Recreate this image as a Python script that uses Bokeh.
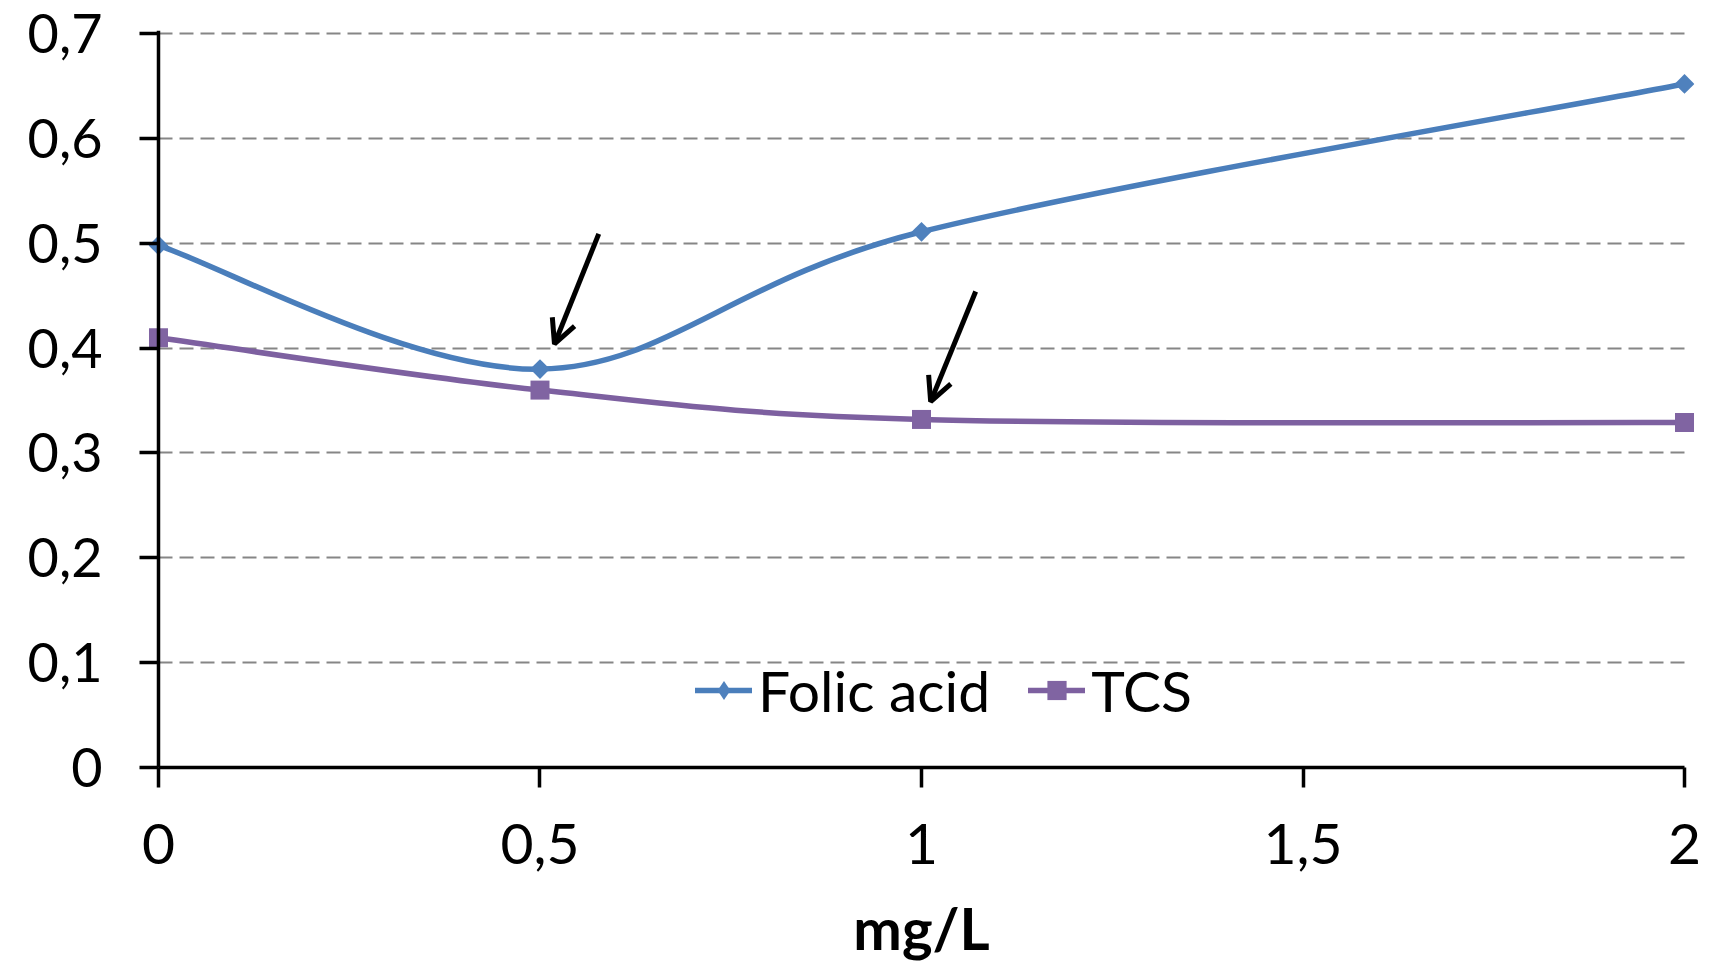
import numpy as np
from bokeh.plotting import figure
from bokeh.models import (Range1d, FixedTicker, Legend, LegendItem, ColumnDataSource,
                          Arrow, OpenHead, Span)
from bokeh.embed import file_html
from bokeh.resources import INLINE

# ---------------- data ----------------
conc = [0, 0.5, 1, 2]
folic_acid = [0.498, 0.380, 0.511, 0.652]
tcs = [0.410, 0.360, 0.332, 0.329]
series_names = ["Folic acid", "TCS"]
x_ticks = [0, 0.5, 1, 1.5, 2]
x_tick_labels = ["0", "0,5", "1", "1,5", "2"]
y_ticks = [0, 0.1, 0.2, 0.3, 0.4, 0.5, 0.6, 0.7]
y_tick_labels = ["0", "0,1", "0,2", "0,3", "0,4", "0,5", "0,6", "0,7"]
x_label = "mg/L"

# ---------------- style ----------------
BLUE_LINE = "#4A7EBB"
BLUE_MARK = "#4F81BD"
PURPLE_LINE = "#7D60A0"
PURPLE_MARK = "#8064A2"
FONT = "Lato"
FONT_SIZE = "57px"
PAD_X = 0.0131
LW = 5.5


def smooth_segments(xs, ys, t=1.0 / 6.0):
    """Cubic Bezier control points (Catmull-Rom style, like spreadsheet smoothing)."""
    x = np.asarray(xs, float)
    y = np.asarray(ys, float)
    n = len(x)
    xp = np.concatenate([[x[0]], x, [x[-1]]])
    yp = np.concatenate([[y[0]], y, [y[-1]]])
    return dict(
        x0=x[:-1], y0=y[:-1], x1=x[1:], y1=y[1:],
        cx0=x[:-1] + (xp[2:n + 1] - xp[0:n - 1]) * t,
        cy0=y[:-1] + (yp[2:n + 1] - yp[0:n - 1]) * t,
        cx1=x[1:] - (xp[3:n + 2] - xp[1:n]) * t,
        cy1=y[1:] - (yp[3:n + 2] - yp[1:n]) * t,
    )


p = figure(width=1709, height=970, output_backend="svg", toolbar_location=None,
           x_range=Range1d(-PAD_X, x_ticks[-1] + PAD_X),
           y_range=Range1d(0, y_ticks[-1] + 0.003),
           min_border_left=148, min_border_right=15, min_border_top=30,
           min_border_bottom=203)
p.outline_line_color = None
p.background_fill_color = "white"
p.border_fill_color = "white"

# axes
for ax in (p.xaxis[0], p.yaxis[0]):
    ax.axis_line_color = "black"
    ax.axis_line_width = 3.5
    ax.major_tick_line_color = "black"
    ax.major_tick_line_width = 3.5
    ax.major_tick_in = 0
    ax.minor_tick_line_color = None
    ax.major_label_text_font = FONT
    ax.major_label_text_font_size = FONT_SIZE
    ax.major_label_text_color = "black"

xa = p.xaxis[0]
xa.ticker = FixedTicker(ticks=x_ticks)
xa.major_label_overrides = dict(zip(x_ticks, x_tick_labels))
xa.bounds = (x_ticks[0], x_ticks[-1])
xa.major_tick_out = 20
xa.major_label_standoff = 36
xa.axis_label = x_label
xa.axis_label_text_font = FONT
xa.axis_label_text_font_style = "bold"
xa.axis_label_text_font_size = "58px"
xa.axis_label_text_color = "black"
xa.axis_label_standoff = 26

# y axis sits at the frame edge (10 px left of x=0); its ticks reach x=0
ya = p.yaxis[0]
ya.ticker = FixedTicker(ticks=y_ticks)
ya.major_label_overrides = dict(zip(y_ticks, y_tick_labels))
ya.major_label_text_font_size = "54px"
ya.axis_line_color = None
ya.major_tick_in = 10
ya.major_tick_out = 9
ya.major_label_standoff = 37
p.add_layout(Span(location=x_ticks[0], dimension="height", line_color="black",
                  line_width=3.5))

p.xgrid.visible = False
g = p.ygrid[0]
g.ticker = FixedTicker(ticks=y_ticks)
g.grid_line_color = "#868686"
g.grid_line_width = 2
g.grid_line_dash = "14 7"
if "cross_bounds" in g.properties():
    g.cross_bounds = (x_ticks[0], x_ticks[-1])

# smoothed lines
src_f = ColumnDataSource(smooth_segments(conc, folic_acid))
src_t = ColumnDataSource(smooth_segments(conc, tcs))
p.bezier(x0="x0", y0="y0", x1="x1", y1="y1", cx0="cx0", cy0="cy0", cx1="cx1", cy1="cy1",
         source=src_f, line_color=BLUE_LINE, line_width=LW)
p.bezier(x0="x0", y0="y0", x1="x1", y1="y1", cx0="cx0", cy0="cy0", cx1="cx1", cy1="cy1",
         source=src_t, line_color=PURPLE_LINE, line_width=LW)

# markers
p.scatter(conc, folic_acid, marker="square", angle=np.pi / 4, size=14,
          fill_color=BLUE_MARK, line_color=None)
p.scatter(conc, tcs, marker="square", size=19, fill_color=PURPLE_MARK, line_color=None)

# legend proxies (no visible data)
nan = [float("nan")]
lf = p.line(nan, nan, line_color=BLUE_LINE, line_width=LW, line_cap="round")
mf = p.scatter(nan, nan, marker="diamond", size=20, fill_color=BLUE_MARK, line_color=None)
lt = p.line(nan, nan, line_color=PURPLE_LINE, line_width=LW, line_cap="round")
mt = p.scatter(nan, nan, marker="square", size=20, fill_color=PURPLE_MARK, line_color=None)

legend = Legend(items=[LegendItem(label=series_names[0], renderers=[lf, mf]),
                       LegendItem(label=series_names[1], renderers=[lt, mt])],
                orientation="horizontal", location=(547, 43),
                border_line_color=None, background_fill_alpha=0,
                label_text_font=FONT, label_text_font_size=FONT_SIZE,
                label_text_color="black",
                glyph_width=57, glyph_height=48, label_standoff=6, spacing=38,
                padding=0, margin=0)
p.add_layout(legend)

# annotation arrows
for (xs, ys, xe, ye) in [(0.577, 0.509, 0.519, 0.404), (1.071, 0.454, 1.012, 0.349)]:
    p.add_layout(Arrow(x_start=xs, y_start=ys, x_end=xe, y_end=ye,
                       line_color="black", line_width=5,
                       end=OpenHead(size=24, line_width=5, line_color="black")))

open("out.html", "w").write(file_html(p, INLINE))
